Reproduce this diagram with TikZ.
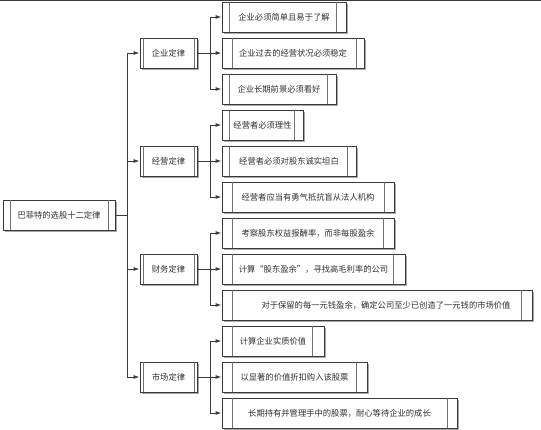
\documentclass[tikz,border=0pt]{standalone}
\usepackage{fontspec}
\setmainfont{Noto Sans CJK SC}
\usetikzlibrary{arrows.meta,shadows}
\definecolor{edge}{HTML}{3A3A3A}
\definecolor{innerc}{HTML}{707070}
\definecolor{shade}{HTML}{A8A8A8}
\definecolor{txt}{HTML}{303030}
\tikzset{
  box/.style={draw=edge, line width=0.9pt, fill=white, rectangle, inner sep=0pt,
    minimum height=30pt, text=txt, font=\fontsize{8.3}{10}\selectfont,
    drop shadow={shadow xshift=1.6pt, shadow yshift=-1.6pt, fill=shade, opacity=1}},
  inl/.style={draw=innerc, line width=0.8pt},
  conn/.style={draw=edge, line width=0.9pt},
  arr/.style={conn, -{Latex[length=6pt,width=4pt]}}
}
\newcommand\mybox[8]{%
  \node[box, minimum width={(#3-#2)*1pt}] (#1) at ({(#2+#3)/2},#4) {};
  \node[text=txt, font=\fontsize{8.3}{10}\selectfont, inner sep=0pt] (#1t) at ({(#2+#3)/2+#8},#4) {#7};
  \draw[inl] (#5,#4-15) -- (#5,#4+15);
  \draw[inl] (#6,#4-15) -- (#6,#4+15);
}
\begin{document}
\begin{tikzpicture}[x=1pt,y=-1pt]
\useasboundingbox (0,0) rectangle (541,430);
\fill[white] (0,0) rectangle (541,430);
\draw[edge, line width=1.5pt] (0,0.5) -- (541,0.5);
% root
\mybox{root}{3}{115}{215}{10}{108}{巴菲特的选股十二定律}{0}
% level 1
\mybox{a}{140}{197}{53}{143}{194}{企业定律}{0}
\mybox{b}{140}{197}{161}{143}{194}{经营定律}{0}
\mybox{c}{140}{197}{269}{143}{194}{财务定律}{0}
\mybox{d}{140}{197}{377}{143}{194}{市场定律}{0}
% level 2
\mybox{a1}{222}{346}{17}{229}{336}{企业必须简单且易于了解}{0}
\mybox{a2}{222}{364}{53}{232}{356}{企业过去的经营状况必须稳定}{0}
\mybox{a3}{222}{336}{89}{229}{327}{企业长期前景必须看好}{0}
\mybox{b1}{222}{303}{125}{229}{294}{经营者必须理性}{0}
\mybox{b2}{222}{356}{161}{229}{347}{经营者必须对股东诚实坦白}{0}
\mybox{b3}{222}{394}{197}{232}{384}{经营者应当有勇气抵抗盲从法人机构}{0}
\mybox{c1}{222}{394}{233}{232}{383}{考察股东权益报酬率，而非每股盈余}{0}
\mybox{c2}{222}{405}{269}{232}{393}{计算“股东盈余”，寻找高毛利率的公司}{0}
\mybox{c3}{222}{532}{305}{232}{521}{对于保留的每一元钱盈余，确定公司至少已创造了一元钱的市场价值}{9}
\mybox{d1}{222}{324}{341}{232}{312}{计算企业实质价值}{0}
\mybox{d2}{222}{367}{377}{232}{356}{以显著的价值折扣购入该股票}{0}
\mybox{d3}{222}{457}{413}{232}{447}{长期持有并管理手中的股票，耐心等待企业的成长}{0}
% connectors
\coordinate (j0) at (127,215);
\draw[conn] (root.east) -- (j0);
\foreach \n in {a,b,c,d} \draw[arr] (j0) |- (\n.west);
\foreach \n in {a,b,c,d} {
  \path (\n.east) ++(13,0) coordinate (j\n);
  \draw[conn] (\n.east) -- (j\n);
  \foreach \k in {1,2,3} \draw[arr] (j\n) |- (\n\k.west);
}
\end{tikzpicture}
\end{document}
